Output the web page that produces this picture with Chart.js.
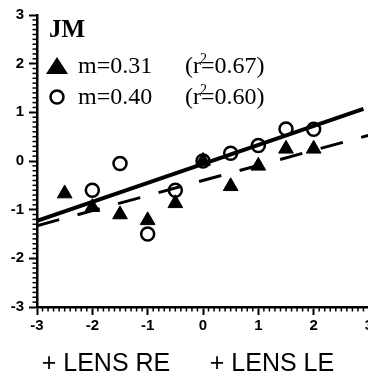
<!DOCTYPE html>
<html>
<head>
<meta charset="utf-8">
<script src="https://cdn.jsdelivr.net/npm/chart.js@4.4.1/dist/chart.umd.min.js"></script>
<style>
  html, body { margin: 0; padding: 0; background: #fff; overflow: hidden; }
  #wrap { position: relative; width: 380px; height: 383px; }
</style>
</head>
<body>
<div id="wrap"><canvas id="lensChart"></canvas></div>
<script>
// lens power (x) vs response (y), subject JM
const triX = [-2.5, -2, -1.5, -1, -0.5, 0, 0.5, 1, 1.5, 2];
const triY = [-0.67, -0.95, -1.1, -1.22, -0.87, 0, -0.52, -0.1, 0.25, 0.25];
const circX = [-2, -1.5, -1, -0.5, 0, 0.5, 1, 1.5, 2];
const circY = [-0.6, -0.05, -1.5, -0.6, 0, 0.16, 0.32, 0.66, 0.65];

// fitted lines, end points
const solidX = [-3, 2.9];
const solidY = [-1.23, 1.07];
const dashX = [-3, 3];
const dashY = [-1.33, 0.53];

const tickValues = [-3, -2, -1, 0, 1, 2, 3];

const legendTitle = "JM";
const legendRows = [
  { mark: "triangle", text: "m=0.31", r2: "0.67" },
  { mark: "circle", text: "m=0.40", r2: "0.60" },
];
const xTitles = ["+ LENS RE", "+ LENS LE"];

function toPoints(xs, ys) {
  return xs.map((x, i) => ({ x: x, y: ys[i] }));
}

// 小刻度 + 圖例 + 軸標題
const extrasPlugin = {
  id: "extras",
  afterDraw(chart) {
    const ctx = chart.ctx;
    const xs = chart.scales.x;
    const ys = chart.scales.y;
    const area = chart.chartArea;
    ctx.save();
    ctx.strokeStyle = "#000";
    ctx.lineWidth = 1.5;
    for (let i = -30; i <= 30; i++) {
      if (i % 10 === 0) continue;
      const v = i / 10;
      const px = xs.getPixelForValue(v);
      ctx.beginPath();
      ctx.moveTo(px, area.bottom);
      ctx.lineTo(px, area.bottom + 4.5);
      ctx.stroke();
      const py = ys.getPixelForValue(v);
      ctx.beginPath();
      ctx.moveTo(area.left, py);
      ctx.lineTo(area.left - 4.5, py);
      ctx.stroke();
    }

    // legend block
    ctx.fillStyle = "#000";
    ctx.textBaseline = "alphabetic";
    ctx.textAlign = "left";
    ctx.font = "bold 25px 'Liberation Serif'";
    ctx.fillText(legendTitle, 49, 37);
    legendRows.forEach((row, i) => {
      const base = 73 + i * 31;
      if (row.mark === "triangle") {
        ctx.beginPath();
        ctx.moveTo(57, base - 16);
        ctx.lineTo(68, base + 1);
        ctx.lineTo(46, base + 1);
        ctx.closePath();
        ctx.fill();
      } else {
        ctx.lineWidth = 2.5;
        ctx.beginPath();
        ctx.arc(57, base - 7, 6.5, 0, Math.PI * 2);
        ctx.stroke();
      }
      ctx.font = "24px 'Liberation Serif'";
      ctx.fillText(row.text, 78, base);
      let x = 185;
      ctx.fillText("(r", x, base);
      x += ctx.measureText("(r").width;
      ctx.font = "14px 'Liberation Serif'";
      ctx.fillText("2", x - 1, base - 10);
      ctx.font = "24px 'Liberation Serif'";
      ctx.fillText("=" + row.r2 + ")", x, base);
    });

    // axis titles under the chart
    ctx.font = "25px 'Liberation Sans'";
    ctx.textAlign = "center";
    ctx.fillText(xTitles[0], 106, 371);
    ctx.fillText(xTitles[1], 272, 371);
    ctx.restore();
  },
};

const data = {
  datasets: [
    {
      label: "circles",
      type: "scatter",
      data: toPoints(circX, circY),
      pointStyle: "circle",
      pointRadius: 6.5,
      pointBorderWidth: 2.5,
      borderColor: "#000",
      backgroundColor: "rgba(0,0,0,0)",
      order: 3,
    },
    {
      label: "triangles",
      type: "scatter",
      data: toPoints(triX, triY),
      pointStyle: "triangle",
      pointRadius: 8.5,
      pointBorderWidth: 1,
      borderColor: "#000",
      backgroundColor: "#000",
      order: 2,
    },
    {
      label: "fit circles",
      type: "line",
      data: toPoints(solidX, solidY),
      borderColor: "#000",
      borderWidth: 4,
      pointRadius: 0,
      fill: false,
      order: 1,
    },
    {
      label: "fit triangles",
      type: "line",
      data: toPoints(dashX, dashY),
      borderColor: "#000",
      borderWidth: 3,
      borderDash: [23, 19],
      pointRadius: 0,
      fill: false,
      order: 1,
    },
  ],
};

const tickFont = { family: "'Liberation Sans'", size: 15, weight: "bold" };

const config = {
  type: "scatter",
  data: data,
  options: {
    responsive: false,
    animation: false,
    layout: { padding: { top: 15, right: 11, left: 0, bottom: 0 } },
    plugins: {
      legend: { display: false },
      tooltip: { enabled: false },
    },
    scales: {
      x: {
        type: "linear",
        min: -3,
        max: 3,
        afterBuildTicks: (scale) => {
          scale.ticks = tickValues.map((v) => ({ value: v }));
        },
        afterFit: (scale) => {
          scale.height = 76;
        },
        ticks: { color: "#000", font: tickFont, padding: 2 },
        grid: {
          drawOnChartArea: false,
          drawTicks: true,
          tickLength: 8,
          tickWidth: 2,
          tickColor: "#000",
        },
        border: { display: true, color: "#000", width: 2.5 },
      },
      y: {
        type: "linear",
        min: -3,
        max: 3,
        afterBuildTicks: (scale) => {
          scale.ticks = tickValues.map((v) => ({ value: v }));
        },
        afterFit: (scale) => {
          scale.width = 37;
        },
        ticks: { color: "#000", font: tickFont, padding: 5 },
        grid: {
          drawOnChartArea: false,
          drawTicks: true,
          tickLength: 8,
          tickWidth: 2,
          tickColor: "#000",
        },
        border: { display: true, color: "#000", width: 2.5 },
      },
    },
  },
  plugins: [extrasPlugin],
};

const canvasElm = document.querySelector("#lensChart");
canvasElm.width = 380;
canvasElm.height = 383;
const lensChart = new Chart(canvasElm, config);
</script>
</body>
</html>
